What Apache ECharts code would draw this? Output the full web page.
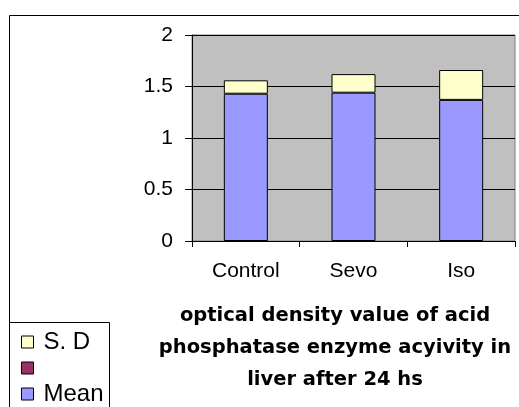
<!DOCTYPE html>
<html>
<head>
<meta charset="utf-8">
<script src="https://cdn.jsdelivr.net/npm/echarts@6/dist/echarts.min.js"></script>
<style>
html,body{margin:0;padding:0;background:#fff;}
#c{width:519px;height:407px;}
</style>
</head>
<body>
<div id="c"></div>
<script>
var categories = ['Control', 'Sevo', 'Iso'];
var meanValues = [1.43, 1.44, 1.37];
var sdValues = [0.13, 0.18, 0.29];
var blankValues = [0, 0, 0];
var yTicks = [0, 0.5, 1, 1.5, 2];
var titleLines = ['optical density value of acid', 'phosphatase enzyme acyivity in', 'liver after 24 hs'];

var chart = echarts.init(document.getElementById('c'), null, {renderer: 'canvas'});
var axisFont = 'Liberation Sans, Arial, sans-serif';
chart.setOption({
  animation: false,
  backgroundColor: '#fff',
  graphic: [
    {type: 'rect', z: 0, silent: true, shape: {x: 9.5, y: 15.5, width: 600, height: 500},
     style: {fill: 'none', stroke: '#000', lineWidth: 1}},
    {type: 'rect', z: 1, silent: true, shape: {x: 9.5, y: 322.5, width: 100, height: 200},
     style: {fill: '#fff', stroke: '#000', lineWidth: 1}}
  ],
  title: {
    text: titleLines.join('\n'),
    left: 335, top: 300, textAlign: 'center', padding: 0,
    textStyle: {fontFamily: 'DejaVu Sans', fontWeight: 'bold', fontSize: 19.5, lineHeight: 32, color: '#000'}
  },
  legend: {
    orient: 'vertical', left: 21, top: 330, padding: 0, itemGap: 2,
    itemWidth: 12, itemHeight: 12, icon: 'rect',
    data: ['S. D', ' ', 'Mean'],
    itemStyle: {borderColor: '#000', borderWidth: 1},
    textStyle: {fontFamily: axisFont, fontSize: 24, lineHeight: 24, color: '#000', padding: [0, 0, 0, 5]},
    z: 5
  },
  grid: {left: 192, top: 35, right: 4, bottom: 166, show: true, backgroundColor: '#C0C0C0', borderColor: '#808080', borderWidth: 1},
  xAxis: {
    type: 'category', data: categories,
    axisLine: {lineStyle: {color: '#000', width: 1}},
    axisTick: {show: true, length: 6, lineStyle: {color: '#000'}},
    axisLabel: {fontFamily: axisFont, fontSize: 21, color: '#000', margin: 20}
  },
  yAxis: {
    type: 'value', min: yTicks[0], max: yTicks[yTicks.length - 1], interval: 0.5,
    axisLine: {show: true, lineStyle: {color: '#000', width: 1}},
    axisTick: {show: true, length: 7, lineStyle: {color: '#000'}},
    splitLine: {show: true, lineStyle: {color: '#000', width: 1.2}},
    axisLabel: {fontFamily: axisFont, fontSize: 21, color: '#000', margin: 19}
  },
  series: [
    {name: 'Mean', type: 'bar', stack: 's', data: meanValues, barWidth: 44,
     itemStyle: {color: '#9999FF', borderColor: '#000', borderWidth: 1}},
    {name: 'S. D', type: 'bar', stack: 's', data: sdValues, barWidth: 44,
     itemStyle: {color: '#FFFFCC', borderColor: '#000', borderWidth: 1}},
    {name: ' ', type: 'bar', stack: 's', data: blankValues, barWidth: 44,
     itemStyle: {color: '#993366', borderColor: '#000', borderWidth: 0}}
  ]
});
</script>
</body>
</html>
